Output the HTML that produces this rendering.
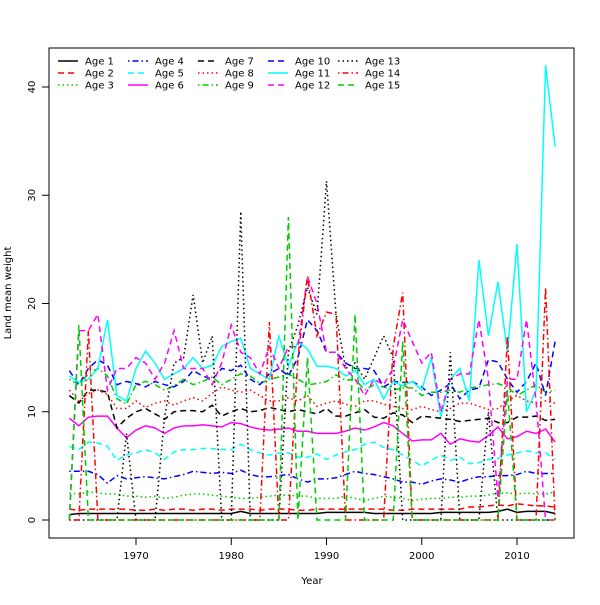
<!DOCTYPE html>
<html><head><meta charset="utf-8"><style>
body{margin:0;background:#fff;}
svg{font-family:"DejaVu Sans","Liberation Sans",sans-serif;}
</style></head><body>
<svg id="chart" width="600" height="600">
<rect x="49" y="48" width="525" height="490" fill="none" stroke="#000"/>
<g id="axes"></g>
<g id="lines"></g>
<g id="legend"></g>
<text x="312" y="584" font-size="10" text-anchor="middle">Year</text>
<text x="11" y="293" font-size="10" text-anchor="middle" transform="rotate(-90 11 293)">Land mean weight</text>
</svg>
<script>
const years = Array.from({length:52},(_, i)=>1963+i);
const xTicks = [1970,1980,1990,2000,2010];
const yTicks = [0,10,20,30,40];
const seriesNames = ["Age 1","Age 2","Age 3","Age 4","Age 5","Age 6","Age 7","Age 8","Age 9","Age 10","Age 11","Age 12","Age 13","Age 14","Age 15"];
const age1 = [0.5,0.6,0.6,0.6,0.6,0.6,0.6,0.6,0.6,0.6, 0.6,0.6,0.6,0.6,0.6,0.6,0.6,0.6,0.8,0.6, 0.6,0.6,0.6,0.6,0.6,0.6,0.6,0.7,0.7,0.7, 0.7,0.7,0.6,0.6,0.6,0.6,0.6,0.6,0.6,0.7, 0.7,0.7,0.7,0.7,0.7,0.8,1.0,0.7,0.8,0.8, 0.8,0.6];
const age2 = [1.0,0.9,1.0,1.0,1.0,1.0,1.0,0.9,0.9,1.0, 0.9,1.0,1.0,0.9,1.0,1.0,0.9,1.0,1.0,1.0, 0.9,1.0,1.0,1.0,0.9,0.9,1.0,1.0,1.0,1.0, 1.0,1.0,1.0,1.0,0.9,0.9,1.0,1.0,1.0,1.0, 1.0,1.0,1.2,1.2,1.3,1.4,1.3,1.5,1.4,1.3, 1.3,1.2];
const age3 = [2.5,2.4,2.6,2.5,2.4,2.4,2.2,2.2,2.1,2.2, 2.0,2.1,2.3,2.4,2.4,2.3,2.2,2.1,2.0,2.0, 2.1,2.2,2.3,2.3,2.2,2.2,2.0,2.0,2.0,2.2, 2.0,1.8,2.0,2.2,2.1,2.0,1.8,1.9,2.0,2.0, 2.1,2.1,2.2,2.2,2.3,2.5,2.5,2.4,2.5,2.4, 2.4,2.6];
const age4 = [4.5,4.5,4.5,4.2,3.4,4.1,3.8,3.9,4.0,3.9, 3.8,4.0,4.2,4.5,4.4,4.3,4.4,4.3,4.6,4.2, 4.0,4.0,4.1,4.2,3.8,3.5,3.8,3.8,3.9,4.2, 4.5,4.3,4.2,4.0,3.8,3.5,3.5,3.3,3.6,3.8, 3.7,3.5,3.8,4.0,4.0,4.1,4.1,4.2,4.5,4.3, 4.3,4.3];
const age5 = [6.8,6.5,7.2,7.1,6.8,5.5,6.0,6.2,6.5,6.2, 5.6,6.3,6.5,6.5,6.6,6.6,6.5,6.5,7.0,6.5, 6.2,6.0,6.2,6.2,5.8,5.8,6.1,5.6,6.0,6.3, 6.5,7.0,7.2,6.7,6.5,6.0,5.5,5.0,5.5,6.0, 5.5,5.8,5.2,5.3,5.6,5.7,6.0,6.2,6.4,6.2, 6.2,5.6];
const age6 = [9.4,8.7,9.5,9.6,9.6,8.5,7.6,8.3,8.7,8.5, 8.0,8.5,8.7,8.7,8.8,8.7,8.6,9.0,8.9,8.6, 8.4,8.3,8.4,8.5,8.2,8.2,8.0,8.0,8.0,8.2, 8.5,8.3,8.6,9.0,8.7,8.0,7.3,7.4,7.4,8.0, 7.0,7.5,7.3,7.2,7.8,8.6,7.5,7.7,8.2,8.0, 8.4,7.2];
const age7 = [11.5,10.8,12.0,12.0,11.8,8.5,9.4,10.0,10.3,9.8, 9.3,10.0,10.1,10.1,10.0,10.6,9.6,10.0,10.3,10.0, 10.1,10.4,10.2,10.0,10.2,10.0,9.8,10.3,9.6,9.6, 9.9,10.2,9.5,9.4,9.9,9.7,9.0,9.6,9.5,9.4, 9.3,9.1,9.2,9.3,9.4,9.0,9.0,9.5,9.5,9.6, 9.2,9.3];
const age8 = [12.0,11.0,11.7,12.0,11.6,10.3,10.3,11.0,10.4,10.8, 11.0,10.6,11.0,11.3,11.0,11.7,12.3,12.0,11.8,12.0, 11.5,11.0,11.0,11.3,11.0,11.5,10.5,10.8,11.0,10.7, 10.5,11.0,11.0,10.7,10.5,10.3,10.2,10.5,10.2,10.0, 10.3,10.8,10.8,10.5,10.2,10.3,11.0,11.5,11.0,10.8, 11.0,10.8];
const age9 = [13.0,12.5,13.5,14.0,13.3,11.2,10.7,12.5,12.8,12.5, 12.0,12.4,13.0,12.5,12.8,13.2,12.5,13.0,13.5,13.3, 12.6,13.0,13.2,13.5,13.0,12.5,12.6,12.8,13.4,12.9, 13.0,12.0,12.5,12.3,12.0,12.2,12.2,11.5,11.8,11.8, 12.0,11.8,12.2,12.3,12.5,12.6,12.3,11.5,12.0,12.5, 11.8,12.0];
const age10 = [13.8,12.5,14.0,14.8,14.3,12.5,12.8,12.6,12.3,12.8, 12.5,12.3,12.8,13.8,13.3,13.0,14.0,13.8,14.3,13.0, 12.5,13.5,14.0,13.3,15.0,18.5,17.5,15.5,15.5,14.5, 14.0,14.0,13.8,12.3,12.8,12.7,12.8,12.3,11.5,12.0, 12.6,11.2,12.0,12.2,14.8,14.6,13.0,11.8,12.8,14.5, 11.5,16.5];
const age11 = [13.3,12.7,13.0,14.0,18.5,11.5,11.0,14.0,15.6,14.5, 13.0,13.5,14.0,15.0,14.0,14.3,16.0,16.5,16.8,14.0, 13.5,13.0,17.0,14.2,16.5,15.8,14.2,14.2,14.0,13.3, 13.8,12.5,13.0,11.2,12.8,12.4,12.8,12.0,15.0,9.5, 13.0,14.0,11.0,24.0,17.0,22.0,15.5,25.5,10.0,12.0, 42.0,34.5];
const age12 = [0,17.5,17.5,19.0,12.0,14.0,14.0,15.0,14.5,13.0, 14.5,17.5,14.0,14.0,14.0,12.5,14.5,18.0,15.5,15.0, 13.5,16.0,14.0,16.0,16.0,22.5,20.0,15.5,15.5,14.0, 13.0,11.5,13.0,12.5,14.0,18.5,16.5,14.5,15.5,10.0, 13.0,13.5,13.5,18.5,13.0,2.0,13.0,13.0,18.5,11.0, 0,0];
const age13 = [0,0,0,0,0,0,8.0,0,0,0, 9.5,14.5,15.0,20.8,14.5,17.0,0,0,28.5,0, 0,0,0,15.5,18.0,21.5,19.0,31.3,19.0,14.0, 14.5,13.0,15.0,17.0,15.0,0,0,0,0,0, 15.5,0,0,0,10.0,0,0,0,0,0, 0,0];
const age14 = [0,0,17.5,0,0,0,0,0,0,0, 0,0,0,0,0,0,0,0,0,0, 0,18.3,0,0,15.0,22.5,17.0,19.2,19.0,0, 0,0,0,0,16.0,21.0,0,0,0,0, 0,0,0,0,0,0,17.0,0,0,0, 21.5,0];
const age15 = [0,18.0,0,0,0,0,0,0,0,0, 0,0,0,0,0,0,0,0,0,0, 0,0,0,28.0,0,15.0,0,0,0,0, 19.0,0,0,0,0,16.5,0,0,0,0, 0,0,0,0,0,0,12.0,0,0,0, 0,0];
const allSeries = [age1,age2,age3,age4,age5,age6,age7,age8,age9,age10,age11,age12,age13,age14,age15];
const colors = ["#000","#f00","#00cd00","#00f","#0ff","#f0f","#000","#f00","#00cd00","#00f","#0ff","#f0f","#000","#f00","#00cd00"];
const dashes = ["","6,4","1.5,3","1.5,3,6,3","6,4","","6,4","1.5,3","1.5,3,6,3","6,4","","6,4","1.5,3","1.5,3,6,3","6,4"];
const NS="http://www.w3.org/2000/svg";
const xs = y => 136 + (y-1970)*9.525;
const ys = v => 520 - v*10.825;
const axes=document.getElementById('axes');
function mk(t,a,p){const e=document.createElementNS(NS,t);for(const k in a)e.setAttribute(k,a[k]);p.appendChild(e);return e;}
xTicks.forEach(t=>{
  const l=mk('line',{x1:xs(t),x2:xs(t),y1:538,y2:545,stroke:'#000'},axes);
  
  
  const tx=mk('text',{x:xs(t),y:559,'font-size':10,'text-anchor':'middle'},axes);tx.textContent=t;
  
  
});
yTicks.forEach(t=>{
  const l=mk('line',{x1:42,x2:49,y1:ys(t),y2:ys(t),stroke:'#000'},axes);
  
  
  const tx=mk('text',{x:35,y:ys(t),'font-size':10,'text-anchor':'middle',transform:`rotate(-90 35 ${ys(t)})`},axes);tx.textContent=t;
  
  
});
const lines=document.getElementById('lines');
allSeries.forEach((s,i)=>{
  const pts=s.map((v,j)=>xs(years[j])+','+ys(v)).join(' ');
  const p=mk('polyline',{points:pts,fill:'none',stroke:colors[i],'stroke-width':1.5,'stroke-dasharray':dashes[i]},lines);
  
  
});
const lg=document.getElementById('legend');
seriesNames.forEach((n,i)=>{
  const col=Math.floor(i/3),row=i%3;
  const x=58+col*70,y=61+row*12;
  const l=mk('line',{x1:x,x2:x+20,y1:y,y2:y,stroke:colors[i],'stroke-width':1.5,'stroke-dasharray':dashes[i]},lg);
  
  
  const t=mk('text',{x:x+27,y:y+3.5,'font-size':10},lg);t.textContent=n;
  
  
});
</script>
</body></html>
